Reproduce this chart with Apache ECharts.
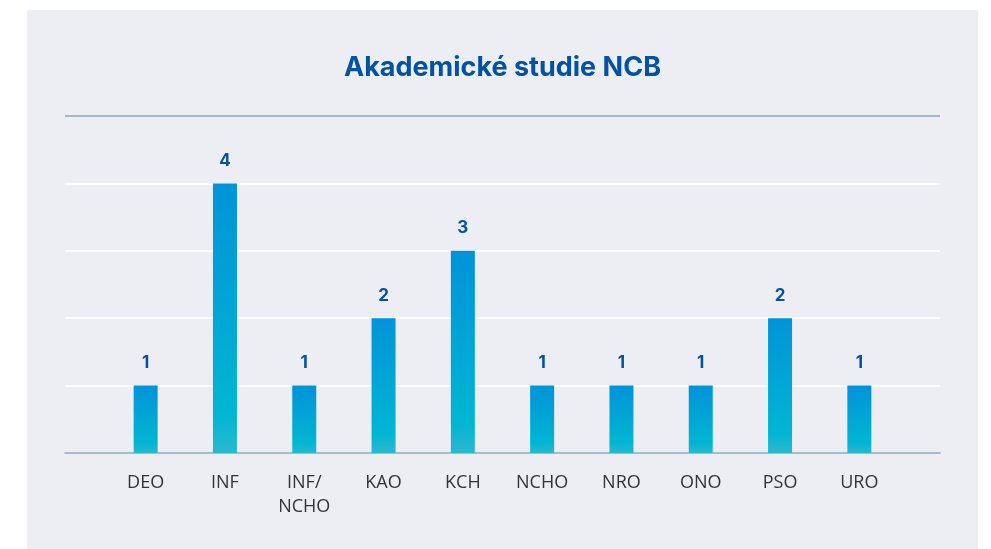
<!DOCTYPE html>
<html>
<head>
<meta charset="utf-8">
<script src="https://cdn.jsdelivr.net/npm/echarts@6/dist/echarts.min.js"></script>
<style>
  html, body { margin: 0; padding: 0; background: #fff; }
  #chart { position: absolute; left: 27px; top: 10px; width: 951px; height: 539px; background: #edeef4; }
</style>
</head>
<body>
<div id="chart"></div>
<script>
// data
const categories = ['DEO', 'INF', 'INF/\nNCHO', 'KAO', 'KCH', 'NCHO', 'NRO', 'ONO', 'PSO', 'URO'];
const values = [1, 4, 1, 2, 3, 1, 1, 1, 2, 1];

const chart = echarts.init(document.getElementById('chart'));

const lineColor = '#83aabd';

chart.setOption({
  animation: false,
  title: {
    text: 'Akademické studie NCB',
    left: 'center',
    top: 39,
    textStyle: { color: '#0052a3', fontSize: 27, fontWeight: 'bold', fontFamily: 'Inter' }
  },
  grid: [
    // wide grid: gridlines + axis lines
    { left: 38, right: 38, top: 106, bottom: 96 },
    // narrow grid: bars + labels
    { left: 79, right: 79, top: 106, bottom: 96 }
  ],
  xAxis: [
    {
      gridIndex: 0, type: 'value', min: 0, max: 1,
      axisLine: { show: true, lineStyle: { color: lineColor, width: 1.5 } },
      axisTick: { show: false }, axisLabel: { show: false }, splitLine: { show: false }
    },
    {
      gridIndex: 1, type: 'category', data: categories,
      axisLine: { show: false }, axisTick: { show: false },
      axisLabel: { color: '#333', fontSize: 18, fontFamily: 'Open Sans', margin: 18, lineHeight: 24, interval: 0 }
    }
  ],
  yAxis: [
    {
      gridIndex: 0, type: 'value', min: 0, max: 5, interval: 1,
      axisLine: { show: false }, axisTick: { show: false }, axisLabel: { show: false },
      splitLine: { lineStyle: { color: ['#ffffff', '#ffffff', '#ffffff', '#ffffff', '#ffffff', lineColor], width: 1.5 } }
    },
    {
      gridIndex: 1, type: 'value', min: 0, max: 5, interval: 1, show: false
    }
  ],
  series: [{
    type: 'bar',
    xAxisIndex: 1,
    yAxisIndex: 1,
    data: values,
    barWidth: 24,
    itemStyle: {
      color: new echarts.graphic.LinearGradient(0, 0, 0, 1, [
        { offset: 0, color: '#0093d9' },
        { offset: 0.85, color: '#00b6d2' },
        { offset: 1, color: '#2ab8cf' }
      ])
    },
    label: {
      show: true,
      position: 'top',
      distance: 14,
      color: '#0052a3',
      fontSize: 17,
      fontWeight: 'bold',
      fontFamily: 'Inter'
    }
  }]
});
</script>
</body>
</html>
